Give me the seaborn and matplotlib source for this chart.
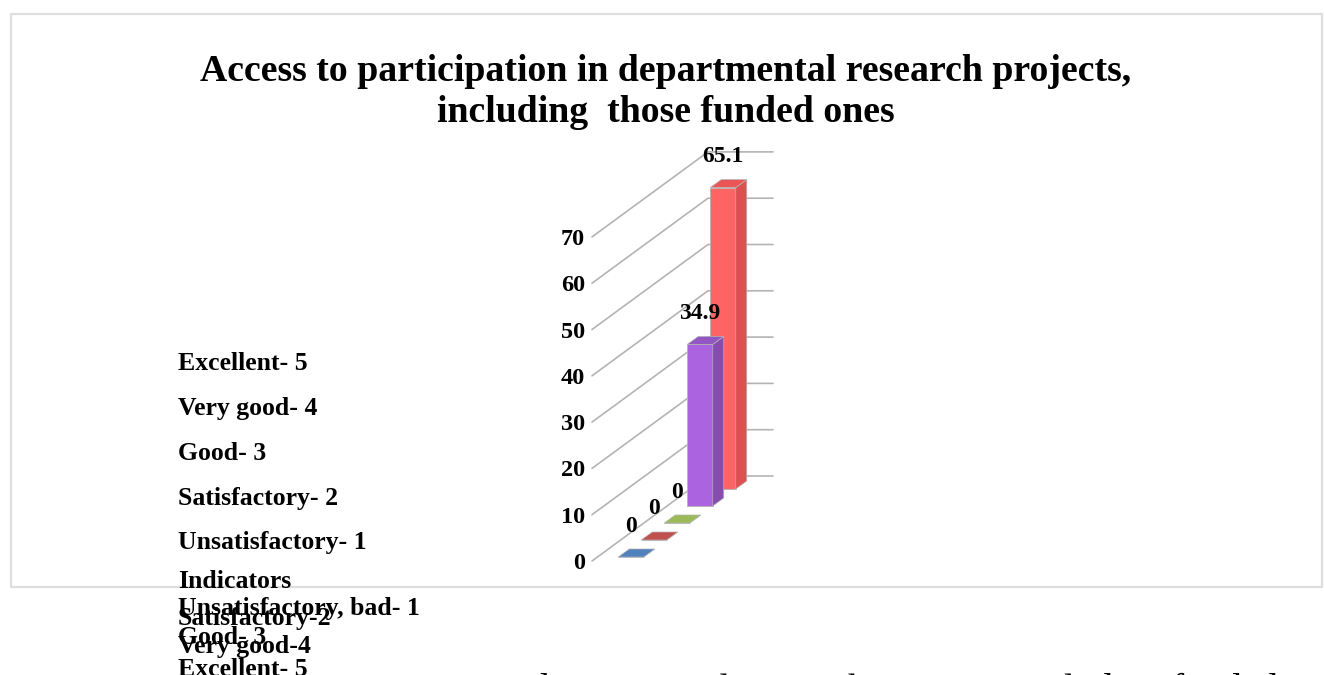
import matplotlib.pyplot as plt
import numpy as np
import pandas as pd
import seaborn as sns
from matplotlib.patches import Polygon, Rectangle

W, H = 1324, 675

title = "Access to participation in departmental research projects,\nincluding  those funded ones"
categories = ["Unsatisfactory, bad- 1", "Satisfactory-2", "Good- 3", "Very good-4", "Excellent- 5"]
values = [0, 0, 0, 34.9, 65.1]
value_labels = ["0", "0", "0", "34.9", "65.1"]
front_colors = ["#4f81bd", "#c0504d", "#9bbb59", "#ab63e0", "#ff6464"]
side_colors = ["#3f6897", "#9a403e", "#7c9647", "#864cb0", "#dd5050"]
top_colors = ["#4f81bd", "#c0504d", "#9bbb59", "#9357c4", "#ea5656"]
y_ticks = [0, 10, 20, 30, 40, 50, 60, 70]

legend_labels = ["Excellent- 5", "Very good- 4", "Good- 3", "Satisfactory- 2", "Unsatisfactory- 1"]
legend_y = [364, 408, 454, 498, 542]
axis_title = "Indicators"
cat_y = [608, 619, 638, 647, 669]
cut_text = "Access to participation in departmental research projects, including funded pro"

px_per_unit = 4.63
step_x, step_y = 23, 17
depth_x, depth_y = 11, 8

sns.set_theme(style="white")
plt.rcParams["font.family"] = ["Liberation Serif", "DejaVu Serif"]
plt.rcParams["font.weight"] = "bold"

fig = plt.figure(figsize=(W / 100, H / 100), dpi=100)
fig.patches.append(Rectangle((10.5 / W, 1 - 587 / H), (1322 - 10.5) / W, (587 - 14) / H, transform=fig.transFigure,
                             fill=False, ec="#dedede", lw=1.6))

# axes box runs from the front wall corner to the end of the back wall
left, right, top, base = 592, 773, 130, 561
ax = fig.add_axes([left / W, 1 - base / H, (right - left) / W, (base - top) / H])
ax.patch.set_alpha(0)

df = pd.DataFrame({"category": categories, "value": values})
sns.barplot(data=df, x="category", y="value", hue="category", palette=front_colors, width=25.5 / step_x,
            legend=False, ax=ax, saturation=1, edgecolor="#b4b4b4", linewidth=0.6)
x0 = (631 - left) / step_x
ax.set_xlim(-x0, (right - left) / step_x - x0)
ax.set_ylim(0, (base - top) / px_per_unit)

# the slanted wall lines
wall_dx = 116 / step_x
wall_dy = 85 / px_per_unit
for v in y_ticks:
    ax.plot([-x0, -x0 + wall_dx, (right - left) / step_x - x0], [v, v + wall_dy, v + wall_dy],
            color="#b4b4b4", lw=1.2, zorder=1, clip_on=False)

dx = depth_x / step_x
dy = depth_y / px_per_unit
lift0 = 4 / px_per_unit
bars = [p for c in ax.containers for p in c]
for i, bar in enumerate(bars):
    z = 12 - i * 2 if i >= 3 else 20
    bar.set_y(lift0 + i * step_y / px_per_unit)
    bar.set_zorder(z)
    xa, xb = bar.get_x(), bar.get_x() + bar.get_width()
    y1, y2 = bar.get_y(), bar.get_y() + bar.get_height()
    ax.add_patch(Polygon([(xb, y1), (xb + dx, y1 + dy), (xb + dx, y2 + dy), (xb, y2)],
                         fc=side_colors[i], ec="#b4b4b4", lw=0.5, zorder=z))
    ax.add_patch(Polygon([(xa, y2), (xb, y2), (xb + dx, y2 + dy), (xa + dx, y2 + dy)],
                         fc=top_colors[i], ec="#b4b4b4", lw=0.5, zorder=z))
    ax.annotate(value_labels[i], (bar.get_x() + bar.get_width() / 2, y2), xytext=(0, 31 * 0.72), textcoords="offset points",
                ha="center", va="center", fontsize=17, color="black", zorder=30, annotation_clip=False)

ax.set_xticks([])
ax.set_yticks(y_ticks)
ax.set_xlabel("")
ax.set_ylabel("")
ax.tick_params(axis="y", length=0, pad=5, labelsize=17.5, labelcolor="black")
for t in ax.get_yticklabels():
    t.set_fontweight("bold")
sns.despine(ax=ax, left=True, bottom=True)


def px_text(x, y, s, **kw):
    return fig.text(x / W, 1 - y / H, s, va="center", color="black", **kw)


px_text(666, 92, title, ha="center", fontsize=27.2, linespacing=1.22)
for lab, y in zip(legend_labels, legend_y):
    px_text(178, y, lab, fontsize=18.5)
px_text(178, 581, axis_title, fontsize=18.5)
for lab, y in zip(categories, cat_y):
    px_text(178, y, lab, fontsize=18.5)
px_text(130, 690.5, cut_text, fontsize=27.5, fontweight="normal")

fig.savefig("out.png", dpi=100)
